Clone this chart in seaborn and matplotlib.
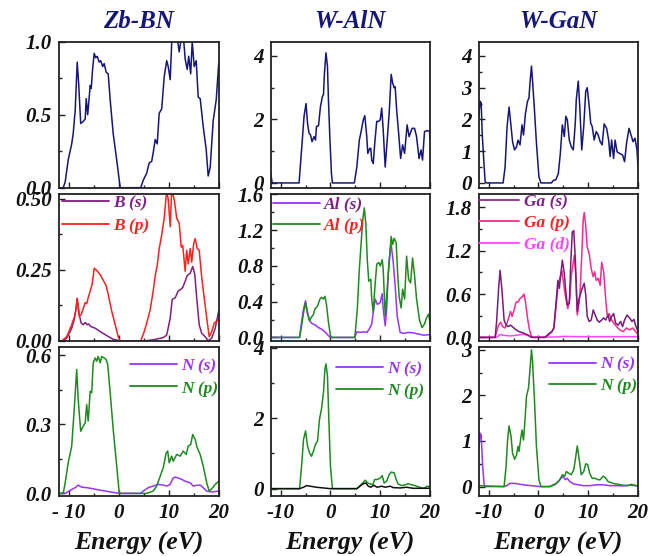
import matplotlib
matplotlib.use("Agg")
import matplotlib.pyplot as plt
import seaborn as sns
from matplotlib.lines import Line2D
from matplotlib.ticker import MultipleLocator, AutoMinorLocator, FixedLocator, FixedFormatter
from matplotlib.font_manager import FontProperties

# ---------------- data ----------------
titles = ["Zb-BN", "W-AlN", "W-GaN"]

# Zb-BN total
e_bn_tot = [-12, -11.1, -10.7, -10.1, -9.4, -9.1, -8.7, -8.3, -8.0, -7.6, -7.2, -6.7, -6.5, -6.2, -5.7, -5.5,
            -5.2, -4.9, -4.6, -4.3, -3.9, -3.6, -3.2, -2.9, -2.5, -2.1, -1.7, -1.1, -0.4, 0.3, 4.4, 4.9, 5.6,
            6.1, 6.6, 6.9, 7.3, 7.7, 8.1, 8.6, 9.1, 9.6, 9.9, 10.3, 10.6, 10.8, 11.2, 11.6, 12.1, 12.5, 12.9,
            13.3, 13.7, 14.0, 14.4, 14.7, 15.1, 15.5, 15.9, 16.3, 16.9, 17.5, 17.9, 18.3, 18.9, 19.5, 20]
d_bn_tot = [0, 0, 0.04, 0.19, 0.30, 0.37, 0.53, 0.86, 0.71, 0.44, 0.45, 0.47, 0.61, 0.50, 0.70, 0.68,
            0.82, 0.92, 0.89, 0.90, 0.86, 0.87, 0.83, 0.85, 0.79, 0.78, 0.60, 0.37, 0.19, 0, 0, 0.05, 0.10,
            0.17, 0.18, 0.24, 0.33, 0.30, 0.51, 0.54, 0.76, 0.87, 0.83, 0.74, 0.99, 1.05, 1.08, 1.05, 0.93, 1.02, 1.05,
            0.88, 0.81, 0.90, 0.78, 1.0, 0.83, 0.87, 0.62, 0.61, 0.42, 0.26, 0.08, 0.14, 0.46, 0.60, 0.85]

# B (s)
e_b_s = [-12, -11.1, -10.4, -9.4, -8.9, -8.5, -8.3, -7.9, -7.5, -7.1, -6.7, -6.3, -6.0, -5.6, -4.7, -3.7, -2.4,
         -1.1, 0.3, 4.9, 6.9, 8.9, 9.6, 10.3, 10.7, 11.3, 11.9, 12.3, 12.8, 13.3, 13.7, 14.3, 14.8, 15.2, 15.6,
         16.1, 16.6, 17.3, 17.9, 18.6, 19.3, 20]
d_b_s = [0, 0, 0.01, 0.045, 0.075, 0.117, 0.15, 0.093, 0.063, 0.057, 0.065, 0.057, 0.06, 0.051, 0.045, 0.033,
         0.019, 0.006, 0, 0, 0.004, 0.012, 0.021, 0.08, 0.146, 0.152, 0.176, 0.18, 0.188, 0.21, 0.23, 0.238, 0.262,
         0.236, 0.152, 0.057, 0.027, 0.015, 0.001, 0.01, 0.045, 0.105]

# B (p)
e_b_p = [-12, -11.4, -10.4, -9.4, -8.7, -8.3, -7.9, -7.5, -7.1, -6.7, -6.4, -6.1, -5.7, -5.3, -4.9, -4.4, -3.7,
         -3.1, -2.5, -2.1, -1.4, -0.7, -0.1, 0.3, 4.4, 5.1, 5.6, 6.3, 6.9, 7.3, 7.7, 8.1, 8.6, 9.1, 9.6, 9.9,
         10.3, 10.6, 11.1, 11.6, 12.1, 12.5, 12.8, 13.3, 13.6, 13.9, 14.3, 14.6, 15.0, 15.3, 15.7, 16.1, 16.6,
         17.1, 17.6, 18.1, 18.6, 19.1, 20]
d_b_p = [0, 0, 0.015, 0.057, 0.093, 0.149, 0.087, 0.093, 0.114, 0.135, 0.131, 0.152, 0.176, 0.2, 0.256, 0.248,
         0.233, 0.214, 0.194, 0.164, 0.105, 0.057, 0.015, 0, 0, 0.033, 0.063, 0.11, 0.176, 0.23, 0.265, 0.325,
         0.373, 0.432, 0.53, 0.498, 0.402, 0.53, 0.498, 0.432, 0.414, 0.33, 0.336, 0.245, 0.319, 0.271, 0.325,
         0.277, 0.343, 0.36, 0.325, 0.319, 0.224, 0.152, 0.081, 0.015, 0.033, 0.063, 0.075]

# Zb-BN N (s)
e_bn_ns = [-12, -10.7, -9.4, -8.7, -8.1, -7.4, -6.4, -5.1, -3.7, -2.4, -0.7, 0.3, 4.3, 4.9, 5.9, 6.9, 7.9, 8.9,
           9.6, 10.3, 10.8, 11.3, 12.3, 13.3, 14.3, 14.9, 15.6, 16.3, 16.9, 17.6, 18.6, 20]
d_bn_ns = [0, 0, 0.017, 0.025, 0.036, 0.027, 0.025, 0.02, 0.014, 0.009, 0.003, 0, 0, 0.01, 0.025, 0.032, 0.039,
           0.036, 0.032, 0.039, 0.064, 0.071, 0.064, 0.053, 0.046, 0.032, 0.035, 0.036, 0.025, 0.01, 0.006, 0.01]

# Zb-BN N (p)
e_bn_np = [-12, -11.1, -10.7, -10.1, -9.4, -8.9, -8.4, -8.1, -7.6, -7.1, -6.7, -6.4, -6.1, -5.7, -5.4, -5.1,
           -4.7, -4.4, -4.1, -3.7, -3.4, -2.9, -2.5, -2.2, -1.7, -1.1, -0.4, 0.1, 0.4, 5.6, 6.9, 7.6, 8.3, 8.9,
           9.5, 9.8, 10.1, 10.6, 10.9, 11.6, 12.3, 12.9, 13.5, 13.9, 14.4, 14.8, 15.3, 15.7, 16.3, 16.9, 17.6,
           18.1, 18.6, 19.3, 20]
d_bn_np = [0, 0, 0.046, 0.133, 0.205, 0.364, 0.538, 0.408, 0.27, 0.292, 0.306, 0.386, 0.314, 0.444, 0.437, 0.567,
           0.588, 0.574, 0.595, 0.567, 0.595, 0.588, 0.581, 0.56, 0.437, 0.278, 0.119, 0.003, 0, 0, 0.01, 0.032,
           0.075, 0.111, 0.176, 0.184, 0.133, 0.162, 0.14, 0.169, 0.162, 0.184, 0.169, 0.205, 0.212, 0.256, 0.234,
           0.198, 0.169, 0.119, 0.046, 0.01, 0.02, 0.039, 0.053]

# W-AlN total
e_aln_tot = [-12, -11.7, -6.3, -5.8, -5.3, -4.9, -4.6, -4.3, -4.0, -3.7, -3.3, -3.0, -2.8, -2.4, -2.0, -1.6, -1.4,
             -1.2, -0.9, -0.6, -0.4, -0.1, 0.2, 0.4, 4.8, 5.3, 5.8, 6.1, 6.6, 6.9, 7.3, 7.5, 7.9, 8.1, 8.3, 8.6,
             8.9, 9.3, 9.7, 10.0, 10.3, 10.6, 11.0, 11.4, 11.8, 12.2, 12.5, 12.8, 13.0, 13.3, 13.7, 14.1, 14.5,
             14.9, 15.4, 15.8, 16.4, 16.9, 17.3, 17.8, 18.2, 18.5, 18.9, 19.5, 19.9, 20]
d_aln_tot = [0.3, 0, 0, 1.04, 2.1, 2.5, 1.88, 1.57, 1.51, 1.3, 1.46, 1.35, 1.78, 1.8, 2.41, 2.73, 2.78,
             3.47, 4.1, 3.68, 2.62, 1.35, 0.3, 0, 0, 0.5, 1.35, 1.57, 1.99, 2.12, 1.46, 0.93, 1.09, 1.09, 0.72, 0.61,
             1.25, 1.94, 1.94, 1.99, 2.36, 1.67, 0.5, 1.35, 2.2, 3.42, 3.15, 3.0, 3.03, 2.3, 1.57, 0.77, 1.2,
             0.93, 1.83, 1.46, 1.72, 1.72, 1.46, 0.77, 1.04, 0.72, 1.62, 1.65, 1.62, 1.35]

# Al (s)
e_al_s = [-12, -6.2, -5.8, -5.4, -5.0, -4.6, -4.2, -3.8, -3.1, -2.4, -1.8, -1.1, -0.4, 0.0, 4.9, 5.3, 5.9, 6.6,
          7.3, 7.8, 8.3, 8.6, 9.0, 9.4, 10.0, 10.4, 10.6, 11.0, 11.3, 11.6, 12.0, 12.2, 12.6, 13.0, 13.4, 14.0,
          14.6, 15.6, 16.6, 17.7, 18.7, 20]
d_al_s = [0, 0, 0.17, 0.32, 0.41, 0.28, 0.19, 0.16, 0.14, 0.11, 0.093, 0.063, 0.019, 0, 0, 0.063, 0.056, 0.063,
          0.056, 0.093, 0.15, 0.28, 0.43, 0.37, 0.39, 0.49, 0.32, 0.13, 0.32, 0.72, 0.98, 1.04, 0.85, 0.58, 0.24,
          0.056, 0.045, 0.056, 0.052, 0.037, 0.026, 0.03]

# Al (p)
e_al_p = [-12, -6.2, -5.8, -5.4, -5.0, -4.6, -4.2, -3.9, -3.4, -3.1, -2.6, -2.1, -1.8, -1.4, -1.1, -0.8, -0.4,
          0.0, 0.2, 4.9, 5.4, 5.8, 6.1, 6.5, 6.8, 7.1, 7.4, 7.7, 8.1, 8.3, 8.6, 8.9, 9.3, 9.7, 10.0, 10.4, 10.6,
          11.0, 11.4, 11.8, 12.2, 12.5, 12.8, 13.2, 13.5, 13.8, 14.2, 14.5, 14.9, 15.3, 15.7, 16.1, 16.5, 16.9,
          17.3, 17.9, 18.4, 18.9, 19.3, 19.7, 20]
d_al_p = [0, 0, 0.13, 0.28, 0.39, 0.26, 0.186, 0.22, 0.26, 0.32, 0.35, 0.43, 0.45, 0.43, 0.46, 0.37, 0.17,
          0.02, 0, 0, 0.32, 0.76, 1.0, 1.32, 1.45, 1.28, 0.87, 0.63, 0.65, 0.43, 0.28, 0.54, 0.82, 0.84, 0.80, 0.87,
          0.76, 0.24, 0.54, 0.84, 1.13, 1.04, 1.11, 1.06, 0.72, 0.46, 0.33, 0.54, 0.43, 0.91, 0.65, 0.61, 0.89,
          0.69, 0.43, 0.19, 0.11, 0.15, 0.22, 0.26, 0.17]

# W-AlN N (s)
e_aln_ns = [-12, -6.2, -5.4, -4.8, -4.1, -2.8, -1.4, -0.1, 5.3, 5.9, 6.6, 7.1, 7.6, 8.1, 8.7, 9.4, 10.3, 11.0,
            12.0, 12.6, 14.0, 15.3, 16.6, 18.0, 20]
d_aln_ns = [0, 0, 0.04, 0.086, 0.07, 0.04, 0.02, 0, 0, 0.07, 0.14, 0.16, 0.07, 0.04, 0.095, 0.04, 0.07, 0.04,
            0.07, 0.03, 0.02, 0.04, 0.01, 0.01, 0.01]

# W-AlN N (p)
e_aln_np = [-12, -6.2, -5.8, -5.4, -5.0, -4.6, -4.2, -3.8, -3.4, -3.0, -2.6, -2.2, -1.8, -1.4, -1.1, -0.9, -0.6,
            -0.3, 0.0, 0.4, 5.3, 5.9, 6.6, 7.0, 7.5, 7.9, 8.5, 8.9, 9.4, 10.0, 10.4, 10.8, 11.3, 11.8, 12.2, 12.8,
            13.2, 13.6, 14.3, 15.0, 15.6, 16.3, 17.0, 17.7, 18.7, 19.5, 20]
d_aln_np = [0, 0, 0.64, 1.4, 1.64, 1.21, 1.02, 0.92, 1.07, 1.26, 1.35, 1.97, 2.26, 2.73, 3.4, 3.54, 3.21,
            1.88, 0.64, 0, 0, 0.07, 0.18, 0.24, 0.16, 0.14, 0.11, 0.26, 0.26, 0.30, 0.37, 0.16, 0.21, 0.40, 0.47, 0.45,
            0.26, 0.13, 0.086, 0.11, 0.14, 0.11, 0.086, 0.05, 0.01, 0.07, 0.05]

# W-GaN total
e_gan_tot = [-12, -11.7, -11.5, -11.3, -10.9, -10.7, -10.4, -7.1, -6.7, -6.3, -5.9, -5.5, -5.2, -4.8, -4.4, -4.1,
             -3.7, -3.3, -3.0, -2.6, -2.2, -1.9, -1.7, -1.4, -1.2, -0.8, -0.4, 0.1, 0.5, 2.6, 3.0, 3.5, 4.0, 4.4,
             4.8, 5.2, 5.5, 5.8, 6.2, 6.6, 7.0, 7.4, 7.6, 8.0, 8.3, 8.7, 9.1, 9.5, 9.8, 10.2, 10.5, 10.8, 11.2,
             11.6, 12.0, 12.4, 12.8, 13.2, 13.7, 14.1, 14.4, 14.7, 15.1, 15.4, 15.8, 16.3, 16.9, 17.3, 17.7, 18.2,
             18.7, 19.0, 19.4, 19.8, 20]
d_gan_tot = [2.1, 2.57, 2.52, 1.57, 0.5, 0.03, 0, 0, 0.5, 1.78, 2.39, 1.78, 1.3, 1.04, 1.14, 1.35,
             1.2, 1.83, 1.51, 2.2, 2.57, 2.68, 3.15, 3.68, 3.26, 2.3, 1.25, 0.19, 0, 0, 0.08, 0.1, 0.3, 0.93,
             1.83, 1.46, 2.1, 1.99, 1.35, 1.14, 1.04, 1.88, 2.62, 3.21, 2.41, 1.04, 1.78, 2.89, 3.0, 2.41, 1.88, 1.78,
             1.35, 1.62, 1.51, 1.3, 1.2, 1.86, 1.72, 1.35, 0.83, 1.35, 0.77, 1.35, 0.98, 0.93, 0.88, 0.67, 1.25, 1.72,
             1.46, 1.3, 1.41, 1.04, 0.5]

# Ga (s)
e_ga_s = [-12, -8.7, -8.4, -8.0, -7.7, -7.3, -6.9, -6.5, -6.1, -5.6, -5.1, -4.5, -3.9, -3.0, -2.0, -1.4, 1.3,
          1.6, 2.2, 2.7, 3.1, 3.5, 3.9, 4.2, 4.5, 4.8, 5.2, 5.5, 5.8, 6.2, 6.5, 6.8, 7.1, 7.4, 7.8, 8.1, 8.4, 8.8,
          9.2, 9.5, 9.8, 10.2, 10.6, 11.0, 11.4, 11.8, 12.2, 12.7, 13.1, 13.5, 14.0, 14.3, 14.7, 15.1, 15.5, 16.0,
          16.5, 16.9, 17.3, 17.8, 18.3, 18.8, 19.2, 19.5, 20]
d_ga_s = [0, 0, 0.22, 0.68, 0.93, 0.63, 0.24, 0.17, 0.15, 0.17, 0.14, 0.105, 0.08, 0.06, 0.03, 0, 0,
          0.02, 0.06, 0.08, 0.13, 0.45, 0.79, 0.68, 0.88, 1.07, 0.88, 0.63, 0.45, 0.47, 1.04, 1.46, 1.48, 1.09, 0.36,
          0.52, 0.59, 0.68, 0.75, 0.59, 0.29, 0.22, 0.24, 0.38, 0.31, 0.24, 0.21, 0.24, 0.27, 0.24, 0.31, 0.22, 0.29,
          0.33, 0.2, 0.17, 0.22, 0.15, 0.24, 0.31, 0.27, 0.22, 0.25, 0.17, 0.08]

# Ga (p)
e_ga_p = [-12, -8.7, -8.4, -8.0, -7.6, -7.2, -6.7, -6.3, -5.9, -5.6, -5.3, -4.9, -4.5, -4.1, -3.7, -3.3, -2.9,
          -2.6, -2.2, -1.8, -1.4, -1.0, 1.3, 2.0, 2.6, 3.1, 3.5, 3.9, 4.3, 4.7, 5.1, 5.5, 5.9, 6.3, 6.6, 7.0, 7.2,
          7.5, 7.8, 8.2, 8.4, 8.7, 9.0, 9.2, 9.5, 9.8, 10.2, 10.6, 11.0, 11.3, 11.6, 12.0, 12.4, 12.7, 13.1, 13.5,
          13.8, 14.2, 14.7, 15.1, 15.7, 16.3, 17.0, 17.7, 18.3, 19.0, 19.5, 20]
d_ga_p = [0, 0, 0.08, 0.17, 0.21, 0.15, 0.13, 0.2, 0.29, 0.36, 0.29, 0.38, 0.49, 0.49, 0.54, 0.56, 0.6,
          0.49, 0.27, 0.105, 0.014, 0, 0, 0.03, 0.07, 0.13, 0.4, 0.68, 0.82, 0.93, 0.72, 0.54, 0.40, 0.54, 0.86, 1.04,
          1.14, 0.86, 0.31, 0.49, 0.68, 1.14, 1.64, 1.73, 1.55, 1.25, 1.16, 0.95, 0.84, 0.91, 0.79, 0.82, 0.72, 1.04,
          0.91, 0.54, 0.31, 0.33, 0.24, 0.2, 0.15, 0.105, 0.08, 0.13, 0.105, 0.13, 0.08, 0.04]

# Ga (d)
e_ga_d = [-12, -8.4, -7.7, -7.1, -5.7, -4.4, -3.0, -2.0, -1.4, 3.5, 5.0, 8.3, 20]
d_ga_d = [0, 0, 0.04, 0.03, 0.02, 0.03, 0.045, 0.02, 0.005, 0.005, 0.014, 0.01, 0.01]

# W-GaN N (s)
e_gan_ns = [-12, -11.7, -11.5, -11.2, -10.9, -10.7, -6.9, -6.4, -5.7, -4.7, -3.7, -2.4, -1.0, 0.3, 2.3, 3.3,
            4.0, 4.5, 5.0, 5.4, 5.8, 6.3, 7.0, 8.0, 9.0, 10.3, 11.6, 13.0, 14.3, 15.7, 17.0, 18.3, 20]
d_gan_ns = [0.8, 1.17, 1.13, 0.44, 0.04, 0, 0, 0.02, 0.07, 0.07, 0.05, 0.03, 0.015, 0, 0, 0.04,
            0.11, 0.18, 0.22, 0.15, 0.18, 0.11, 0.06, 0.04, 0.02, 0.02, 0.04, 0.04, 0.02, 0.02, 0.015, 0.03, 0.015]

# W-GaN N (p)
e_gan_np = [-12, -6.9, -6.5, -6.2, -5.9, -5.5, -5.2, -4.8, -4.4, -4.1, -3.9, -3.6, -3.3, -3.0, -2.7, -2.4, -2.0,
            -1.7, -1.4, -1.2, -0.8, -0.4, 0.1, 0.5, 2.3, 3.0, 3.6, 4.3, 4.8, 5.3, 5.6, 6.1, 6.6, 7.1, 7.5, 7.8,
            8.2, 8.6, 9.1, 9.5, 9.9, 10.3, 10.8, 11.4, 12.0, 12.4, 13.0, 13.4, 14.0, 15.0, 16.0, 17.0, 18.0, 18.7,
            19.3, 20]
d_gan_np = [0.02, 0, 0.44, 1.02, 1.33, 1.1, 0.73, 0.6, 0.69, 0.88, 0.77, 1.02, 1.24, 1.02, 1.46, 1.98, 2.16,
            2.56, 3.0, 2.78, 1.9, 0.88, 0.15, 0, 0, 0.04, 0.07, 0.15, 0.26, 0.23, 0.33, 0.29, 0.26, 0.37, 0.66, 0.89,
            0.59, 0.26, 0.33, 0.5, 0.48, 0.29, 0.18, 0.18, 0.15, 0.15, 0.23, 0.2, 0.11, 0.07, 0.05, 0.03, 0.02, 0.05,
            0.03, 0.015]

# ---------------- styling ----------------
sns.set_theme(style="ticks")
plt.rcParams['font.family'] = ['Liberation Serif', 'DejaVu Serif']

NAVY = '#16167a'
PURPLE = '#80208a'
RED = '#ff2020'
VIOLET = '#9933ff'
GREEN = '#1f8a1f'
PINK = '#ff2a8c'
MAGENTA = '#ff44ff'
BLACK = '#111111'

tick_fp = FontProperties(family='Liberation Serif', weight='bold', style='italic', size=15)
leg_fp = FontProperties(family='Liberation Serif', weight='bold', style='italic', size=12.5)
title_fp = FontProperties(family='Liberation Serif', weight='bold', style='italic', size=18)
lab_fp = FontProperties(family='Liberation Serif', weight='bold', style='italic', size=18.5)

fig = plt.figure(figsize=(6.6, 5.56), dpi=100)
fig.patch.set_facecolor('white')

W, H = 660.0, 556.0
col_left = [58.7, 270.7, 478.7]
col_w = [160.0, 159.3, 159.3]
row_top = [41.7, 194.5, 347.0]
row_bot = [187.7, 341.0, 495.7]

axes = [[None] * 3 for _ in range(3)]
for r in range(3):
    for c in range(3):
        ax = fig.add_axes([col_left[c] / W, 1 - row_bot[r] / H, col_w[c] / W, (row_bot[r] - row_top[r]) / H])
        ax.set_facecolor('white')
        axes[r][c] = ax

ylims = [[(0, 1.0), (-0.15, 4.45), (-0.15, 4.45)],
         [(0, 0.515), (-0.04, 1.6), (-0.05, 1.98)],
         [(-0.01, 0.636), (-0.2, 4.02), (-0.2, 3.06)]]
yticks = [[[0, 0.5, 1.0], [0, 2, 4], [0, 1, 2, 3, 4]],
          [[0, 0.25, 0.5], [0, 0.4, 0.8, 1.2, 1.6], [0, 0.6, 1.2, 1.8]],
          [[0, 0.3, 0.6], [0, 2, 4], [0, 1, 2, 3]]]
ylabels = [[["0.0", "0.5", "1.0"], ["0", "2", "4"], ["0", "1", "2", "3", "4"]],
           [["0.00", "0.25", "0.50"], ["0.0", "0.4", "0.8", "1.2", "1.6"], ["0.0", "0.6", "1.2", "1.8"]],
           [["0.0", "0.3", "0.6"], ["0", "2", "4"], ["0", "1", "2", "3"]]]
xlabels_bottom = [["- 10", "0", "10", "20"], ["-10", "0", "10", "20"], ["-10", "0", "10", "20"]]


def draw(ax, e, d, color, lw=1.1):
    sns.lineplot(x=e, y=d, ax=ax, color=color, linewidth=lw, estimator=None, sort=False, legend=False)


# Row 1: total DOS
draw(axes[0][0], e_bn_tot, d_bn_tot, NAVY)
draw(axes[0][1], e_aln_tot, d_aln_tot, NAVY)
draw(axes[0][2], e_gan_tot, d_gan_tot, NAVY)
# Row 2: cation partial DOS
draw(axes[1][0], e_b_s, d_b_s, '#7f1f80')
draw(axes[1][0], e_b_p, d_b_p, RED)
draw(axes[1][1], e_al_s, d_al_s, VIOLET)
draw(axes[1][1], e_al_p, d_al_p, GREEN)
draw(axes[1][2], e_ga_d, d_ga_d, MAGENTA)
draw(axes[1][2], e_ga_p, d_ga_p, PINK)
draw(axes[1][2], e_ga_s, d_ga_s, '#7a1a7a')
# Row 3: N partial DOS
draw(axes[2][0], e_bn_ns, d_bn_ns, VIOLET)
draw(axes[2][0], e_bn_np, d_bn_np, GREEN)
draw(axes[2][1], e_aln_np, d_aln_np, GREEN)
draw(axes[2][1], e_aln_ns, d_aln_ns, BLACK)
draw(axes[2][2], e_gan_ns, d_gan_ns, VIOLET)
draw(axes[2][2], e_gan_np, d_gan_np, GREEN)

for r in range(3):
    for c in range(3):
        ax = axes[r][c]
        ax.set_xlim(-12, 20)
        ax.set_ylim(*ylims[r][c])
        ax.xaxis.set_major_locator(FixedLocator([-10, 0, 10, 20]))
        ax.xaxis.set_minor_locator(MultipleLocator(5))
        ax.yaxis.set_major_locator(FixedLocator(yticks[r][c]))
        ax.yaxis.set_major_formatter(FixedFormatter(ylabels[r][c]))
        ax.yaxis.set_minor_locator(AutoMinorLocator(2))
        ax.tick_params(which='both', direction='in', top=False, right=False, color='#222222', width=1.0)
        ax.tick_params(which='major', length=4, pad=5)
        ax.tick_params(which='minor', length=2.5)
        for sp in ax.spines.values():
            sp.set_linewidth(1.3)
            sp.set_color('#222222')
            sp.set_visible(True)
        for lab in ax.get_yticklabels():
            lab.set_fontproperties(tick_fp)
            lab.set_color('#111111')
        ax.set_xlabel('')
        ax.set_ylabel('')
        if r < 2:
            ax.set_xticklabels([])
        else:
            ax.set_xticklabels(xlabels_bottom[c])
            for lab in ax.get_xticklabels():
                lab.set_fontproperties(tick_fp)
                lab.set_color('#111111')
            ax.set_xlabel('Energy (eV)', fontproperties=lab_fp, color='#111111', labelpad=7)

for c in range(3):
    axes[0][c].set_title(titles[c], fontproperties=title_fp, color=NAVY, pad=10)


def add_legend(ax, labels, hcolors, tcolors, x, y, spacing, hl=2.7):
    handles = [Line2D([], [], color=col, lw=1.3) for col in hcolors]
    leg = ax.legend(handles, labels, loc='upper left', bbox_to_anchor=(x, y), frameon=False,
                    handlelength=hl, handletextpad=0.25, labelspacing=spacing, borderpad=0,
                    borderaxespad=0, prop=leg_fp)
    for t, col in zip(leg.get_texts(), tcolors):
        t.set_color(col)
    return leg


add_legend(axes[1][0], ['B (s)', 'B (p)'], ['#7f1f80', RED], [PURPLE, RED], 0.019, 0.995, 0.35)
add_legend(axes[1][1], ['Al (s)', 'Al (p)'], [VIOLET, GREEN], [PURPLE, RED], 0.014, 0.985, 0.3)
add_legend(axes[1][2], ['Ga (s)', 'Ga (p)', 'Ga (d)'], ['#8a2e8a', PINK, MAGENTA], [PURPLE, RED, MAGENTA],
           0.0, 1.005, 0.3, hl=2.35)
add_legend(axes[2][0], ['N (s)', 'N (p)'], [VIOLET, GREEN], [VIOLET, GREEN], 0.446, 0.925, 0.35)
add_legend(axes[2][1], ['N (s)', 'N (p)'], [VIOLET, GREEN], [VIOLET, GREEN], 0.41, 0.905, 0.3)
add_legend(axes[2][2], ['N (s)', 'N (p)'], [VIOLET, GREEN], [VIOLET, GREEN], 0.441, 0.935, 0.3)

fig.savefig('out.png', dpi=100, facecolor='white')
